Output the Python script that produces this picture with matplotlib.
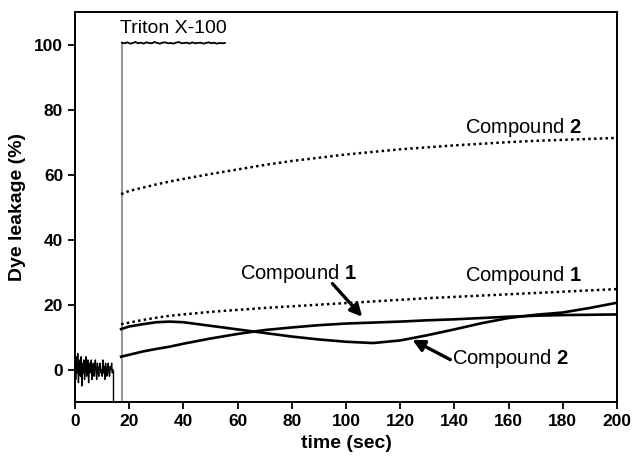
import numpy as np
import matplotlib
matplotlib.use("Agg")
import matplotlib.pyplot as plt

plt.rcParams['font.family'] = ['Liberation Sans', 'DejaVu Sans']
plt.rcParams['mathtext.fontset'] = 'custom'
plt.rcParams['mathtext.rm'] = 'Liberation Sans'
plt.rcParams['mathtext.bf'] = 'Liberation Sans:bold'

# ---- data ----
t_base = np.arange(0, 14.01, 0.25)
base_vals = [2, -3, 4, -1, 5, -4, 1, 3, -2, 4, -5, 2, -1, 3, -3, 1, 4, -2, 0, 3,
             -4, 2, -1, 1, 3, -3, 0, 2, -2, 1, 3, -1, -3, 2, 0, -2, 1, 2, -1, 0,
             -2, 3, -1, 1, -3, 2, 0, -2, 1, 2, -1, -2, 1, 0, 2, -1, 0]
t_drop = 14.0
t_triton_add = 17.3
t_triton = np.arange(17.3, 56.0, 1.0)
triton_vals = [100.6, 100.4, 100.7, 100.3, 100.5, 100.8, 100.4, 100.6, 100.3, 100.7,
               100.5, 100.4, 100.8, 100.5, 100.3, 100.6, 100.7, 100.4, 100.5, 100.3,
               100.6, 100.8, 100.4, 100.5, 100.6, 100.3, 100.7, 100.4, 100.5, 100.6,
               100.3, 100.5, 100.7, 100.4, 100.6, 100.3, 100.5, 100.4, 100.5]

t_c = [17, 20, 25, 30, 35, 40, 50, 60, 70, 80, 90, 100, 110, 120, 130, 140, 150, 160, 170, 180, 190, 200]
c2_dotted = [54, 55, 56, 57, 57.9, 58.7, 60.2, 61.6, 63, 64.2, 65.2, 66.2, 67, 67.8, 68.4, 69, 69.5, 70, 70.4, 70.7, 71, 71.3]
c1_dotted = [14, 14.5, 15.3, 16, 16.6, 17, 17.8, 18.4, 19, 19.5, 20, 20.5, 21, 21.5, 22, 22.4, 22.8, 23.2, 23.6, 24, 24.4, 24.8]
c1_solid = [4, 4.6, 5.6, 6.4, 7.1, 8, 9.6, 11, 12.2, 13, 13.7, 14.2, 14.5, 14.8, 15.2, 15.5, 15.9, 16.3, 16.6, 16.8, 16.9, 17]
c2_solid = [12.5, 13.3, 14, 14.6, 14.8, 14.6, 13.5, 12.4, 11.3, 10.2, 9.3, 8.6, 8.2, 9.0, 10.6, 12.4, 14.3, 15.9, 16.9, 17.6, 19, 20.6]

x_ticks = list(range(0, 201, 20))
y_ticks = list(range(0, 101, 20))

# ---- figure ----
fig = plt.figure(figsize=(6.36, 4.65), dpi=100)
ax = fig.add_axes([0.118, 0.135, 0.852, 0.839])

ax.plot(t_base, base_vals, color='black', lw=1.0)
ax.vlines(t_drop, -10, base_vals[-1], color='black', lw=1.0)
ax.vlines(t_triton_add, -10, triton_vals[0], color='#8a8a8a', lw=1.3)
ax.plot(t_triton, triton_vals, color='black', lw=1.3)

ax.plot(t_c, c2_dotted, color='black', lw=1.8, linestyle=(0, (1.0, 1.3)))
ax.plot(t_c, c1_dotted, color='black', lw=1.8, linestyle=(0, (1.0, 1.3)))
ax.plot(t_c, c1_solid, color='black', lw=1.9)
ax.plot(t_c, c2_solid, color='black', lw=1.9)

fs = 14.5
ax.text(16.6, 102.3, 'Triton X-100', fontsize=14, ha='left', va='bottom')
ax.text(144, 74.5, 'Compound $\\mathbf{2}$', fontsize=fs, ha='left', va='center')
ax.text(144, 29, 'Compound $\\mathbf{1}$', fontsize=fs, ha='left', va='center')
ax.text(61, 29.7, 'Compound $\\mathbf{1}$', fontsize=fs, ha='left', va='center')
ax.text(139, 3.4, 'Compound $\\mathbf{2}$', fontsize=fs, ha='left', va='center')

arrow = dict(arrowstyle='-|>,head_length=0.7,head_width=0.35', color='black', lw=2.4,
             shrinkA=0, shrinkB=0)
ax.annotate('', xy=(106, 16.3), xytext=(95, 26.5), arrowprops=arrow)
ax.annotate('', xy=(124.5, 9.2), xytext=(138.5, 3.1), arrowprops=arrow)

ax.set_xlim(0, 200)
ax.set_ylim(-10, 110)
ax.set_xticks(x_ticks)
ax.set_yticks(y_ticks)
ax.tick_params(direction='out', length=5, width=1.3, labelsize=12.5)
for lab in ax.get_xticklabels() + ax.get_yticklabels():
    lab.set_fontweight('bold')
for s in ax.spines.values():
    s.set_linewidth(1.4)
ax.set_xlabel('time (sec)', fontsize=14, fontweight='bold', labelpad=4)
ax.set_ylabel('Dye leakage (%)', fontsize=14, fontweight='bold', labelpad=6)

fig.savefig('out.png', dpi=100)
